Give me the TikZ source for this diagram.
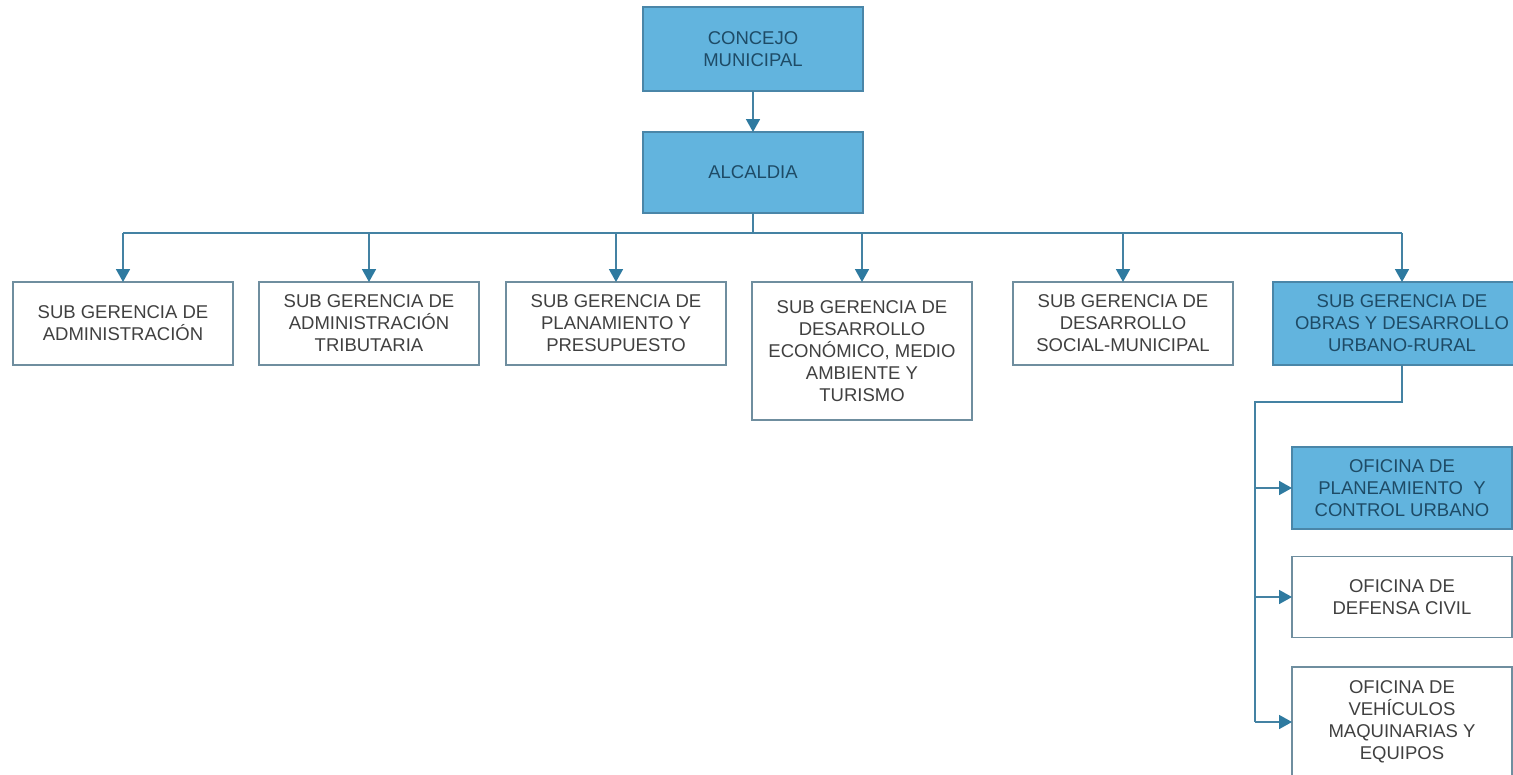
\documentclass[tikz,border=0pt]{standalone}
\usepackage{fontspec}
\setmainfont{Liberation Sans}
\usetikzlibrary{arrows.meta}
\definecolor{boxblue}{HTML}{62B4DE}
\definecolor{bluetext}{HTML}{1E4B66}
\definecolor{greytext}{HTML}{404040}
\definecolor{wireblue}{HTML}{4482A3}
\definecolor{tipblue}{HTML}{2E7AA0}
\definecolor{edgegrey}{HTML}{6F8E9F}
\definecolor{edgeblue}{HTML}{4A86A8}
\tikzset{
  orgbox/.style={draw=edgegrey, line width=1.3pt, fill=white, text=greytext,
    minimum width=220pt, inner sep=0pt, outer sep=0pt, align=center,
    font=\fontsize{18.5}{22}\selectfont},
  bluebox/.style={orgbox, draw=edgeblue, fill=boxblue, text=bluetext},
  wire/.style={draw=wireblue, line width=1.7pt},
  arr/.style={wire, -{Triangle[width=14pt,length=13pt,color=tipblue]}},
}
\begin{document}
\begin{tikzpicture}[x=1pt,y=-1pt]
\useasboundingbox (0,0) rectangle (1513,774);
\fill[white] (0,0) rectangle (1513,774);

\node[bluebox, minimum height=84pt] (concejo) at (753,49) {CONCEJO\\MUNICIPAL};
\node[bluebox, minimum height=81pt] (alc) at (753,172.5) {ALCALDIA};

\node[orgbox, minimum height=83pt] (b1) at (123,323.5) {SUB GERENCIA DE\\ADMINISTRACIÓN};
\node[orgbox, minimum height=83pt] (b2) at (369,323.5) {SUB GERENCIA DE\\ADMINISTRACIÓN\\TRIBUTARIA};
\node[orgbox, minimum height=83pt] (b3) at (616,323.5) {SUB GERENCIA DE\\PLANAMIENTO Y\\PRESUPUESTO};
\node[orgbox, minimum height=138pt] (b4) at (862,351) {SUB GERENCIA DE\\DESARROLLO\\ECONÓMICO, MEDIO\\AMBIENTE Y\\TURISMO};
\node[orgbox, minimum height=83pt] (b5) at (1123,323.5) {SUB GERENCIA DE\\DESARROLLO\\SOCIAL-MUNICIPAL};
\node[bluebox, minimum width=258pt, minimum height=83pt] (b6) at (1402,323.5) {SUB GERENCIA DE\\OBRAS Y DESARROLLO\\URBANO-RURAL};

\node[bluebox, minimum height=82pt] (o1) at (1402,488) {OFICINA DE\\PLANEAMIENTO~ Y\\CONTROL URBANO};
\node[orgbox, minimum height=81pt] (o2) at (1402,597) {OFICINA DE\\DEFENSA CIVIL};
\node[orgbox, minimum height=110pt] (o3) at (1402,722) {OFICINA DE\\VEHÍCULOS\\MAQUINARIAS Y\\EQUIPOS};

\draw[arr] (concejo.south) -- (alc.north);

\coordinate (bus) at (753,233);
\draw[wire] (alc.south) -- (bus);
\draw[wire] (b1.north |- bus) -- (b6.north |- bus);
\foreach \b in {b1,b2,b3,b4,b5,b6}
  \draw[arr] (\b.north |- bus) -- (\b.north);

\coordinate (elbow) at (1255,402);
\draw[wire] (b6.south) |- (elbow) -- (elbow |- o3.west);
\foreach \o in {o1,o2,o3}
  \draw[arr] (elbow |- \o.west) -- (\o.west);
\end{tikzpicture}
\end{document}
